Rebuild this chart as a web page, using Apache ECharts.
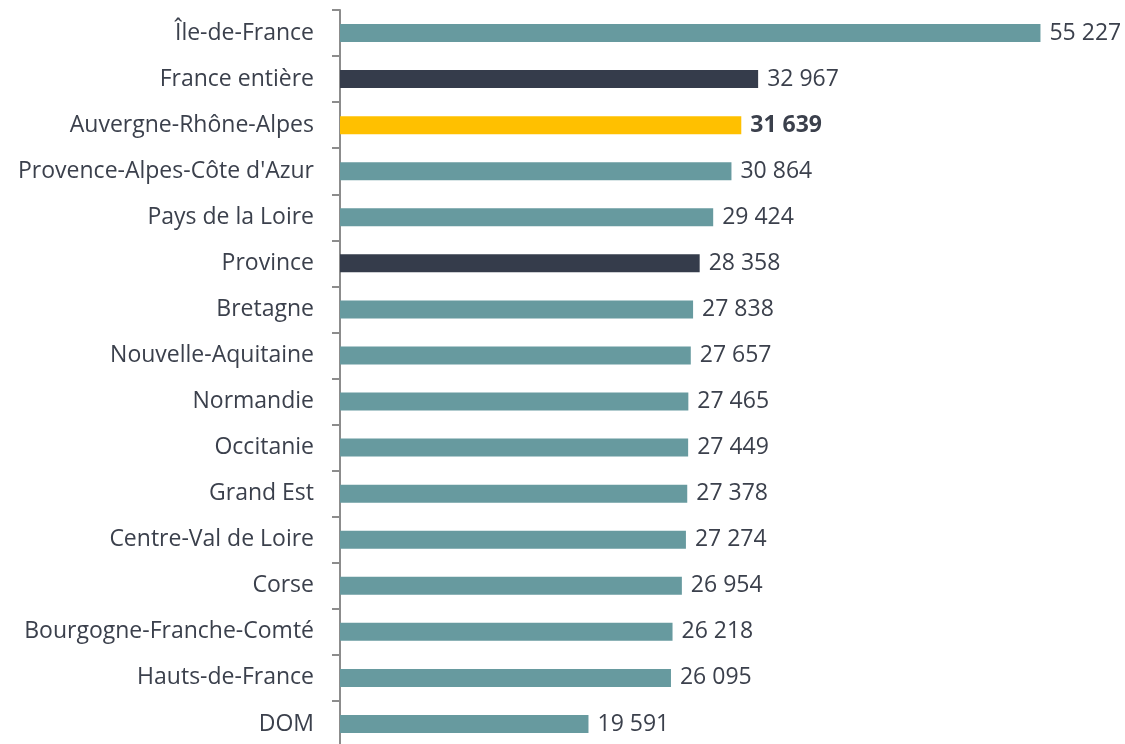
<!DOCTYPE html>
<html>
<head>
<meta charset="utf-8">
<script src="https://cdn.jsdelivr.net/npm/echarts@6/dist/echarts.min.js"></script>
<style>
  html, body { margin: 0; padding: 0; background: #fff; overflow: hidden; }
  #chart { width: 1125px; height: 747px; }
</style>
</head>
<body>
<div id="chart"></div>
<script>
var regions = [
  'Île-de-France', 'France entière', 'Auvergne-Rhône-Alpes', "Provence-Alpes-Côte d'Azur",
  'Pays de la Loire', 'Province', 'Bretagne', 'Nouvelle-Aquitaine', 'Normandie', 'Occitanie',
  'Grand Est', 'Centre-Val de Loire', 'Corse', 'Bourgogne-Franche-Comté', 'Hauts-de-France', 'DOM'
];
var values = [55227, 32967, 31639, 30864, 29424, 28358, 27838, 27657, 27465, 27449, 27378, 27274, 26954, 26218, 26095, 19591];

var teal = '#679A9F', dark = '#353C4B', yellow = '#FFC000';
var darkRows = ['France entière', 'Province'];
var highlight = 'Auvergne-Rhône-Alpes';

function fmt(v) {
  return String(v).replace(/\B(?=(\d{3})+(?!\d))/g, ' ');
}

var chart = echarts.init(document.getElementById('chart'));

var option = {
  animation: false,
  textStyle: { fontFamily: 'Open Sans' },
  grid: { left: 340, width: 761, top: 10, bottom: 0 },
  xAxis: {
    type: 'value',
    min: 0,
    max: 60000,
    show: false
  },
  yAxis: {
    type: 'category',
    inverse: true,
    data: regions,
    axisLine: { show: true, lineStyle: { color: '#8C8C8C', width: 2 } },
    axisTick: { show: true, alignWithLabel: false, length: 8, lineStyle: { color: '#8C8C8C', width: 2 } },
    axisLabel: { color: '#3B404C', fontSize: 23, margin: 26, fontFamily: 'Open Sans' }
  },
  series: [{
    type: 'bar',
    barWidth: 18,
    data: values.map(function (v, i) {
      var name = regions[i];
      var color = name === highlight ? yellow : (darkRows.indexOf(name) >= 0 ? dark : teal);
      return {
        value: v,
        itemStyle: { color: color },
        label: name === highlight ? { fontWeight: 'bold' } : {}
      };
    }),
    label: {
      show: true,
      position: 'right',
      distance: 9,
      color: '#3B404C',
      fontSize: 23,
      fontFamily: 'Open Sans',
      formatter: function (p) { return fmt(p.value); }
    }
  }]
};

chart.setOption(option);
</script>
</body>
</html>
